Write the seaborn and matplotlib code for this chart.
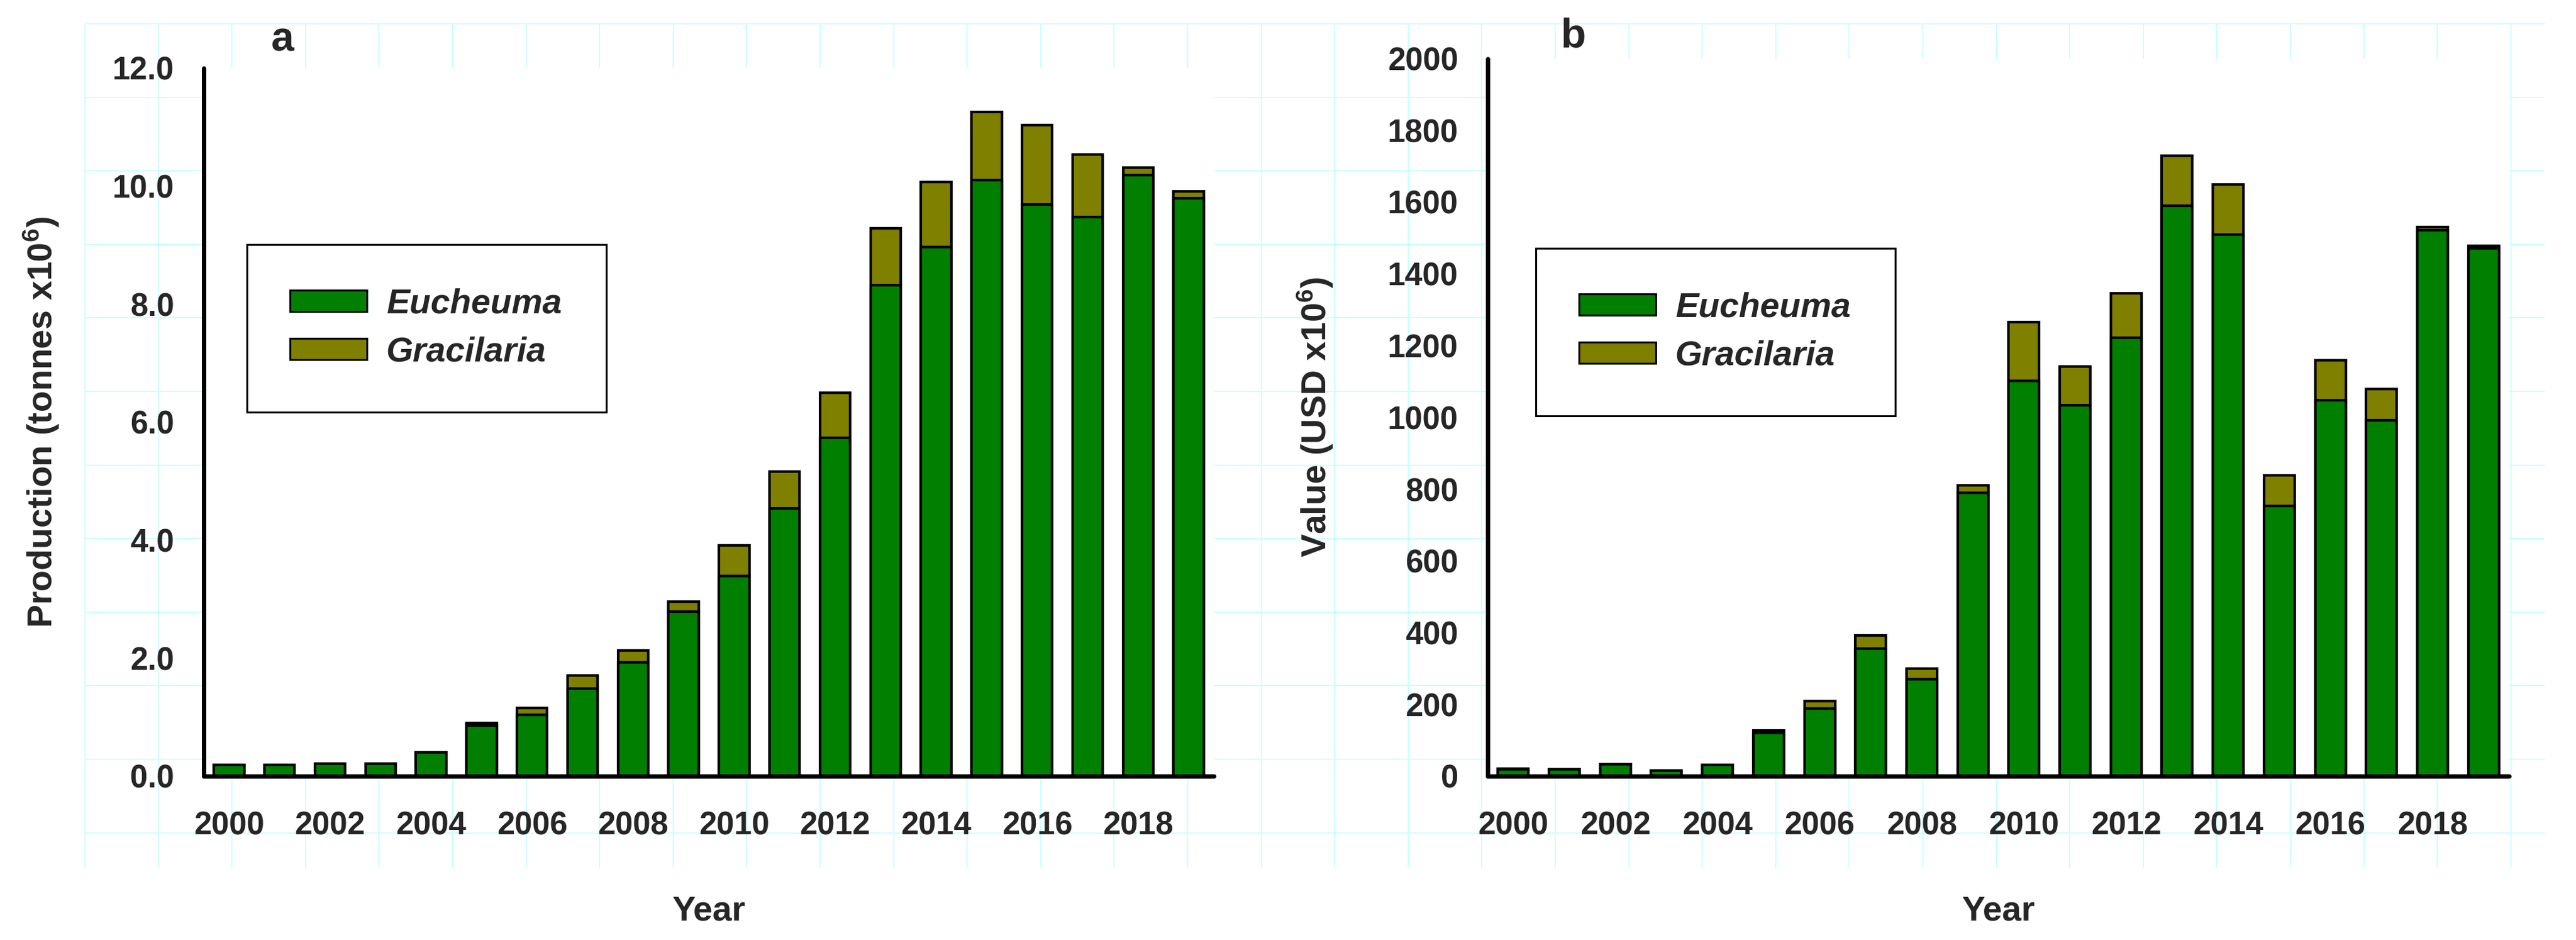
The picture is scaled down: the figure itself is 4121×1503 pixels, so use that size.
import matplotlib
matplotlib.use("Agg")
import matplotlib.pyplot as plt
import seaborn as sns
from matplotlib.patches import Patch
from matplotlib.ticker import MultipleLocator, FixedLocator, FormatStrFormatter

# ---------------- data ----------------
years = list(range(2000, 2020))
year_labels = [str(y) for y in range(2000, 2020, 2)]

prod_eucheuma = [0.19, 0.19, 0.21, 0.21, 0.40, 0.86, 1.04, 1.48, 1.93, 2.79,
                 3.39, 4.54, 5.74, 8.32, 8.97, 10.10, 9.69, 9.48, 10.19, 9.79]
prod_gracilaria = [0.005, 0.005, 0.005, 0.005, 0.005, 0.04, 0.115, 0.23, 0.20, 0.17,
                   0.52, 0.62, 0.76, 0.97, 1.10, 1.16, 1.35, 1.06, 0.12, 0.12]

value_eucheuma = [20, 19, 33, 15, 31, 120, 188, 356, 270, 790,
                  1102, 1034, 1221, 1590, 1510, 753, 1048, 992, 1522, 1471]
value_gracilaria = [1, 0.5, 0.5, 0.5, 1, 8, 21, 36, 29, 20,
                    163, 107, 124, 139, 139, 85, 111, 86, 8, 7]

series_names = ["Eucheuma", "Gracilaria"]
panel_letters = ["a", "b"]
ylabels = ["Production (tonnes x10$^{6}$)", "Value (USD x10$^{6}$)"]
xlabel = "Year"

GREEN = "#007f00"
OLIVE = "#7f7f00"
GRIDC = "#ccffff"

# ---------------- style ----------------
sns.set_style("white")
plt.rcParams["font.family"] = ["Liberation Sans", "DejaVu Sans"]
plt.rcParams["font.weight"] = "bold"
plt.rcParams["mathtext.fontset"] = "custom"
plt.rcParams["mathtext.rm"] = "Liberation Sans:bold"
plt.rcParams["mathtext.bf"] = "Liberation Sans:bold"
plt.rcParams["mathtext.it"] = "Liberation Sans:bold:italic"
plt.rcParams["mathtext.default"] = "rm"

W, H = 4121, 1503
DPI = 100
fig = plt.figure(figsize=(W / DPI, H / DPI), dpi=DPI, facecolor="white")

# background page grid (decoration)
bg = fig.add_axes([0, 0, 1, 1], zorder=-10)
bg.set_xlim(0, W)
bg.set_ylim(H, 0)
bg.axis("off")
step = 117.6
vx = [136 + step * k for k in range(34)]
hy = [38 + step * j for j in range(12)]
bg.vlines(vx, 38, 1388, color=GRIDC, lw=1.4)
bg.hlines(hy, 136, 4071, color=GRIDC, lw=1.4)

def fx(px):
    return px / W

def fy(py):
    return 1 - py / H

axes_px = [
    (326, 1942, 109, 1241),
    (2380, 4014, 93.5, 1241),
]

TICK_FS = 36.5
LABEL_FS = 40
LW_EDGE = 3.0

panels = [
    (prod_eucheuma, prod_gracilaria, 12, 2, 0.4, "%.1f"),
    (value_eucheuma, value_gracilaria, 2000, 200, 40, "%d"),
]

legend_anchor = [(395, 391), (2457, 397)]
ylabel_x = [66, 2104]
letter_pos = [(451, 82), (2517, 76)]

for i, (euch, grac, ymax, ymaj, ymin, fmt) in enumerate(panels):
    l, r, t, b = axes_px[i]
    ax = fig.add_axes([fx(l), fy(b), fx(r) - fx(l), fy(t) - fy(b)], zorder=1)
    ax.set_facecolor("white")
    total = [e + g for e, g in zip(euch, grac)]
    sns.barplot(x=years, y=total, color=OLIVE, saturation=1, width=0.6,
                edgecolor="black", linewidth=LW_EDGE, native_scale=True,
                errorbar=None, ax=ax)
    sns.barplot(x=years, y=euch, color=GREEN, saturation=1, width=0.6,
                edgecolor="black", linewidth=LW_EDGE, native_scale=True,
                errorbar=None, ax=ax)
    ax.set_xlim(1999.5, 2019.5)
    ax.set_ylim(0, ymax)
    ax.xaxis.set_major_locator(FixedLocator(list(range(2000, 2020, 2))))
    ax.xaxis.set_minor_locator(FixedLocator(list(range(2001, 2020, 2))))
    ax.set_xticklabels(year_labels)
    ax.yaxis.set_major_locator(MultipleLocator(ymaj))
    ax.yaxis.set_minor_locator(MultipleLocator(ymin))
    ax.yaxis.set_major_formatter(FormatStrFormatter(fmt))
    for s in ["top", "right"]:
        ax.spines[s].set_visible(False)
    for s in ["left", "bottom"]:
        ax.spines[s].set_linewidth(5)
        ax.spines[s].set_color("black")
        ax.spines[s].set_capstyle("round")
    ax.tick_params(axis="both", which="major", direction="out", length=16,
                   width=4.5, color="black", labelsize=TICK_FS)
    ax.tick_params(axis="both", which="minor", direction="out", length=11.5,
                   width=4.5, color="black")
    ax.tick_params(axis="x", which="major", pad=24)
    ax.tick_params(axis="y", which="major", pad=18)
    for lab in ax.get_xticklabels() + ax.get_yticklabels():
        lab.set_fontweight("bold")
    ax.grid(False)

    ax.set_xlabel(xlabel, fontsize=LABEL_FS, fontweight="bold", va="center")
    ax.xaxis.set_label_coords(0.5, (b - 1458) / (b - t))
    ax.set_ylabel(ylabels[i], fontsize=LABEL_FS, fontweight="bold", va="center")
    ax.yaxis.set_label_coords((ylabel_x[i] - l) / (r - l), 0.5)

    handles = [Patch(facecolor=GREEN, edgecolor="black", linewidth=2.2),
               Patch(facecolor=OLIVE, edgecolor="black", linewidth=2.2)]
    lx, ly = legend_anchor[i]
    leg = ax.legend(handles, series_names, loc="upper left",
                    bbox_to_anchor=(fx(lx), fy(ly) - 0.5, fx(575), 0.5),
                    bbox_transform=fig.transFigure, mode="expand",
                    borderaxespad=0, borderpad=1.25, labelspacing=0.45,
                    handlelength=2.2, handleheight=0.58, handletextpad=0.56,
                    fancybox=False, framealpha=1, edgecolor="black",
                    prop={"size": LABEL_FS, "weight": "bold", "style": "italic"})
    leg.get_frame().set_linewidth(2.2)

    tx, ty = letter_pos[i]
    fig.text(fx(tx), fy(ty), panel_letters[i], ha="center", va="baseline",
             fontsize=47.5, fontweight="bold")

fig.savefig("out.png", dpi=DPI, facecolor="white")
